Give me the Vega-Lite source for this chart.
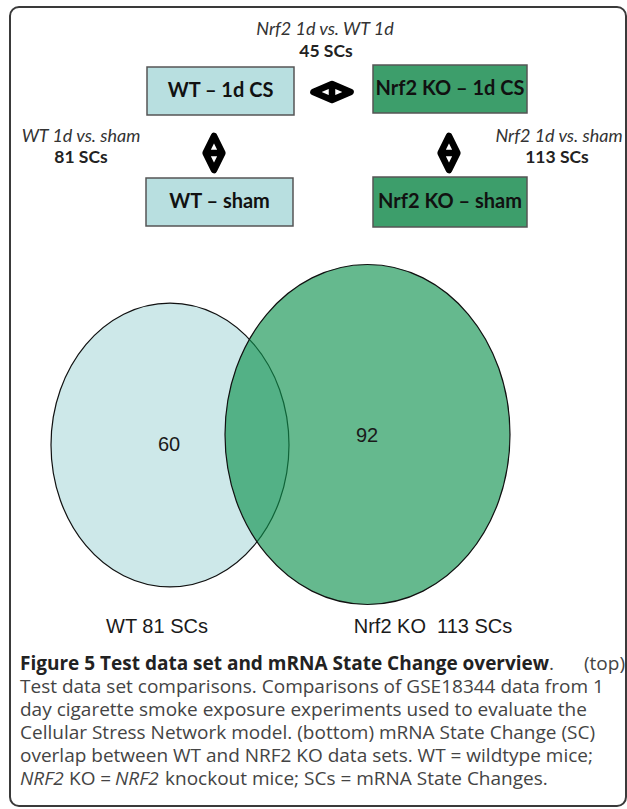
{
  "$schema": "https://vega.github.io/schema/vega-lite/v6.json",
  "width": 627,
  "height": 809,
  "padding": 0,
  "autosize": {"type": "none"},
  "background": "white",
  "config": {"view": {"stroke": null}},
  "datasets": {
    "frame": [{"x": 10, "y": 7, "x2": 626, "y2": 806}],
    "boxes": [
      {"x": 147, "y": 67, "x2": 294, "y2": 115, "group": "WT"},
      {"x": 373, "y": 65, "x2": 527, "y2": 113, "group": "KO"},
      {"x": 146, "y": 178, "x2": 293, "y2": 226, "group": "WT"},
      {"x": 373, "y": 177, "x2": 527, "y2": 227, "group": "KO"}
    ],
    "arrows": [
      {"x": 214, "y": 153, "dir": "v"},
      {"x": 449, "y": 153, "dir": "v"},
      {"x": 332, "y": 92, "dir": "h"}
    ],
    "venn": [
      {"set": "WT", "x": 170, "y": 445},
      {"set": "KO", "x": 367.5, "y": 434.5}
    ],
    "texts": [
      {"kind": "box", "x": 220.5, "y": 91, "text": "WT – 1d CS"},
      {"kind": "box", "x": 450, "y": 89, "text": "Nrf2 KO – 1d CS"},
      {"kind": "box", "x": 219.5, "y": 202, "text": "WT – sham"},
      {"kind": "box", "x": 450, "y": 202, "text": "Nrf2 KO – sham"},
      {"kind": "cmpi", "x": 325, "y": 30, "text": "Nrf2 1d vs. WT 1d"},
      {"kind": "cmpb", "x": 326, "y": 52, "text": "45 SCs"},
      {"kind": "cmpi", "x": 81, "y": 137, "text": "WT 1d vs. sham"},
      {"kind": "cmpb", "x": 81, "y": 158, "text": "81 SCs"},
      {"kind": "cmpi", "x": 559, "y": 137, "text": "Nrf2 1d vs. sham"},
      {"kind": "cmpb", "x": 557, "y": 158, "text": "113 SCs"},
      {"kind": "venn", "x": 169, "y": 445, "text": "60"},
      {"kind": "venn", "x": 367, "y": 436, "text": "92"},
      {"kind": "venn", "x": 157, "y": 627, "text": "WT 81 SCs"},
      {"kind": "venn", "x": 433, "y": 627, "text": "Nrf2 KO\u00a0 113 SCs"},
      {"kind": "capb", "x": 20, "y": 664, "text": "Figure 5 Test data set and mRNA State Change overview"},
      {"kind": "cap", "x": 549, "y": 664, "text": "."},
      {"kind": "capr", "x": 625, "y": 664, "text": "(top)"},
      {"kind": "cap", "x": 20, "y": 687, "text": "Test data set comparisons. Comparisons of GSE18344 data from 1"},
      {"kind": "cap", "x": 20, "y": 710, "text": "day cigarette smoke exposure experiments used to evaluate the"},
      {"kind": "cap", "x": 20, "y": 733, "text": "Cellular Stress Network model. (bottom) mRNA State Change (SC)"},
      {"kind": "cap", "x": 20, "y": 756, "text": "overlap between WT and NRF2 KO data sets. WT = wildtype mice;"},
      {"kind": "capi", "x": 20, "y": 779, "text": "NRF2"},
      {"kind": "cap", "x": 69, "y": 779, "text": "KO ="},
      {"kind": "capi", "x": 115, "y": 779, "text": "NRF2"},
      {"kind": "cap", "x": 165, "y": 779, "text": "knockout mice; SCs = mRNA State Changes."}
    ]
  },
  "layer": [
    {
      "data": {"name": "frame"},
      "mark": {"type": "rect", "fillOpacity": 0, "stroke": "#3a3a3a", "strokeWidth": 2, "cornerRadius": 9},
      "encoding": {
        "x": {"field": "x", "type": "quantitative", "scale": {"domain": [0, 627], "nice": false, "zero": false}, "axis": null},
        "x2": {"field": "x2"},
        "y": {"field": "y", "type": "quantitative", "scale": {"domain": [0, 809], "nice": false, "zero": false, "reverse": true}, "axis": null},
        "y2": {"field": "y2"}
      }
    },
    {
      "data": {"name": "boxes"},
      "mark": {"type": "rect", "stroke": "#555555", "strokeWidth": 1.5, "opacity": 1},
      "encoding": {
        "x": {"field": "x", "type": "quantitative", "axis": null},
        "x2": {"field": "x2"},
        "y": {"field": "y", "type": "quantitative", "axis": null},
        "y2": {"field": "y2"},
        "color": {"field": "group", "type": "nominal", "scale": {"domain": ["WT", "KO"], "range": ["#b8dfe0", "#3d9e6b"]}, "legend": null}
      }
    },
    {
      "data": {"name": "arrows"},
      "mark": {"type": "point", "filled": false, "fill": "white", "stroke": "black", "strokeWidth": 6.5, "strokeJoin": "round", "opacity": 1, "size": 1600},
      "encoding": {
        "x": {"field": "x", "type": "quantitative", "axis": null},
        "y": {"field": "y", "type": "quantitative", "axis": null},
        "shape": {"field": "dir", "type": "nominal", "scale": {"domain": ["v", "h"], "range": ["M 0 -0.85 L 0.42 0 L 0 0.85 L -0.42 0 Z M -0.42 0 L 0.42 0", "M -0.93 0 L 0 -0.4 L 0.93 0 L 0 0.4 Z M 0 -0.4 L 0 0.4"]}, "legend": null}
      }
    },
    {
      "data": {"name": "venn"},
      "transform": [{"filter": "datum.set === 'WT'"}],
      "mark": {"type": "point", "shape": "M 1 0 C 1 0.659 0.5523 1.193 0 1.193 C -0.5523 1.193 -1 0.659 -1 0 C -1 -0.659 -0.5523 -1.193 0 -1.193 C 0.5523 -1.193 1 -0.659 1 0 Z", "size": 56644, "fill": "#cde8e9", "stroke": "#111111", "strokeWidth": 1.2, "opacity": 1, "fillOpacity": 1},
      "encoding": {
        "x": {"field": "x", "type": "quantitative", "axis": null},
        "y": {"field": "y", "type": "quantitative", "axis": null}
      }
    },
    {
      "data": {"name": "venn"},
      "transform": [{"filter": "datum.set === 'KO'"}],
      "mark": {"type": "point", "shape": "M 1 0 C 1 0.659 0.5523 1.193 0 1.193 C -0.5523 1.193 -1 0.659 -1 0 C -1 -0.659 -0.5523 -1.193 0 -1.193 C 0.5523 -1.193 1 -0.659 1 0 Z", "size": 81225, "fill": "#0e914e", "fillOpacity": 0.64, "stroke": "#111111", "strokeWidth": 1.2, "strokeOpacity": 1, "opacity": 1},
      "encoding": {
        "x": {"field": "x", "type": "quantitative", "axis": null},
        "y": {"field": "y", "type": "quantitative", "axis": null}
      }
    },
    {
      "data": {"name": "texts"},
      "transform": [{"filter": "datum.kind === 'box'"}],
      "mark": {"type": "text", "font": "Lato", "fontWeight": "bold", "fontSize": 20, "align": "center", "baseline": "middle", "color": "#111111"},
      "encoding": {
        "x": {"field": "x", "type": "quantitative", "axis": null},
        "y": {"field": "y", "type": "quantitative", "axis": null},
        "text": {"field": "text"}
      }
    },
    {
      "data": {"name": "texts"},
      "transform": [{"filter": "datum.kind === 'cmpi'"}],
      "mark": {"type": "text", "font": "Lato", "fontStyle": "italic", "fontSize": 18, "align": "center", "baseline": "middle", "color": "#333333"},
      "encoding": {
        "x": {"field": "x", "type": "quantitative", "axis": null},
        "y": {"field": "y", "type": "quantitative", "axis": null},
        "text": {"field": "text"}
      }
    },
    {
      "data": {"name": "texts"},
      "transform": [{"filter": "datum.kind === 'cmpb'"}],
      "mark": {"type": "text", "font": "Lato", "fontWeight": "bold", "fontSize": 17.5, "align": "center", "baseline": "middle", "color": "#222222"},
      "encoding": {
        "x": {"field": "x", "type": "quantitative", "axis": null},
        "y": {"field": "y", "type": "quantitative", "axis": null},
        "text": {"field": "text"}
      }
    },
    {
      "data": {"name": "texts"},
      "transform": [{"filter": "datum.kind === 'venn'"}],
      "mark": {"type": "text", "font": "Liberation Sans", "fontSize": 20, "align": "center", "baseline": "middle", "color": "#1a1a1a"},
      "encoding": {
        "x": {"field": "x", "type": "quantitative", "axis": null},
        "y": {"field": "y", "type": "quantitative", "axis": null},
        "text": {"field": "text"}
      }
    },
    {
      "data": {"name": "texts"},
      "transform": [{"filter": "datum.kind === 'capb'"}],
      "mark": {"type": "text", "font": "Open Sans", "fontWeight": "bold", "fontSize": 19, "align": "left", "baseline": "middle", "color": "#222222"},
      "encoding": {
        "x": {"field": "x", "type": "quantitative", "axis": null},
        "y": {"field": "y", "type": "quantitative", "axis": null},
        "text": {"field": "text"}
      }
    },
    {
      "data": {"name": "texts"},
      "transform": [{"filter": "datum.kind === 'capr'"}],
      "mark": {"type": "text", "font": "Open Sans", "fontSize": 19, "align": "right", "baseline": "middle", "color": "#444444"},
      "encoding": {
        "x": {"field": "x", "type": "quantitative", "axis": null},
        "y": {"field": "y", "type": "quantitative", "axis": null},
        "text": {"field": "text"}
      }
    },
    {
      "data": {"name": "texts"},
      "transform": [{"filter": "datum.kind === 'cap'"}],
      "mark": {"type": "text", "font": "Open Sans", "fontSize": 19, "align": "left", "baseline": "middle", "color": "#444444"},
      "encoding": {
        "x": {"field": "x", "type": "quantitative", "axis": null},
        "y": {"field": "y", "type": "quantitative", "axis": null},
        "text": {"field": "text"}
      }
    },
    {
      "data": {"name": "texts"},
      "transform": [{"filter": "datum.kind === 'capi'"}],
      "mark": {"type": "text", "font": "Open Sans", "fontStyle": "italic", "fontSize": 19, "align": "left", "baseline": "middle", "color": "#444444"},
      "encoding": {
        "x": {"field": "x", "type": "quantitative", "axis": null},
        "y": {"field": "y", "type": "quantitative", "axis": null},
        "text": {"field": "text"}
      }
    }
  ]
}
